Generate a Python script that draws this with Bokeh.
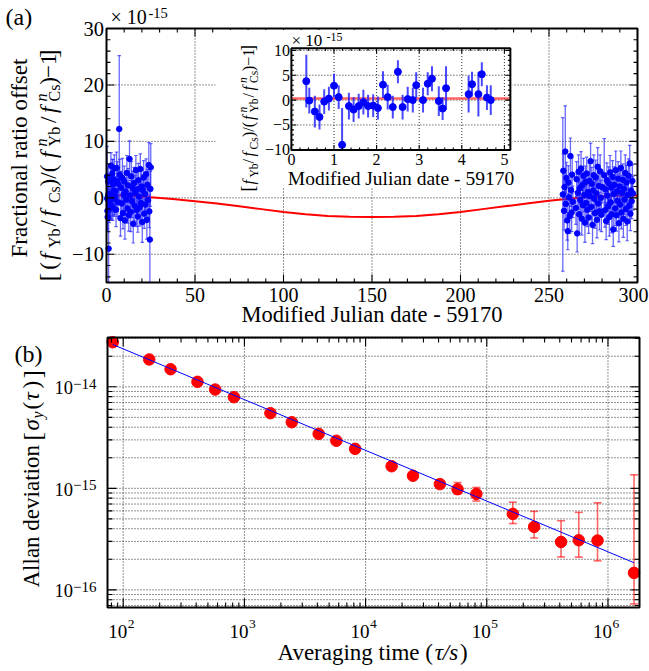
import math
from bokeh.plotting import figure
from bokeh.models import Range1d, Label, LogScale
from bokeh.embed import file_html
from bokeh.resources import INLINE
from bokeh.core.properties import value

FONT = "Liberation Serif"

# ---------------- data: panel (a) ----------------
# first five days (also shown in the inset)
inset_day = [0.35, 0.42, 0.55, 0.66, 0.77, 0.88, 1.00, 1.11, 1.19, 1.35,
             1.46, 1.58, 1.69, 1.80, 1.92, 2.03, 2.15, 2.26, 2.38, 2.50,
             2.61, 2.73, 2.85, 2.93, 3.09, 3.20, 3.30, 3.46, 3.55, 3.63,
             4.16, 4.24, 4.39, 4.47, 4.59, 4.68]
inset_offset = [3.8, -0.1, -2.3, -3.4, -0.3, 0.3, 2.9, 0.6, -9.0, -1.2,
                -1.9, -1.2, -0.4, -1.2, -1.1, -1.6, 3.1, 0.6, -1.4, 5.7,
                -1.4, 0.2, 0.0, 3.0, 0.0, 3.3, 4.3, -0.2, -1.7, 2.4,
                1.2, 3.2, 1.2, 5.2, 0.5, 0.0]
inset_err = [5.3, 2.6, 3.2, 2.5, 2.5, 2.4, 2.4, 2.4, 7.4, 2.7,
             2.5, 2.5, 2.5, 2.3, 2.3, 2.3, 2.7, 2.5, 2.3, 2.3,
             2.5, 2.5, 2.5, 2.6, 2.5, 2.3, 2.5, 3.0, 2.3, 4.4,
             3.7, 2.5, 4.5, 2.4, 2.5, 3.0]
inset_fit_day = [0.0, 5.14]
inset_fit_offset = [0.3, 0.3]

# days 5 - 25
early_day = [5.0, 5.4, 5.7, 6.1, 6.4, 6.8, 7.2, 7.5, 7.9, 8.2,
             8.6, 9.0, 9.3, 9.7, 10.0, 10.4, 10.8, 11.1, 11.5, 11.9,
             12.2, 12.6, 13.0, 13.3, 13.7, 14.0, 14.4, 14.8, 15.1, 15.5,
             15.9, 16.2, 16.6, 17.0, 17.3, 17.7, 18.0, 18.4, 18.8, 19.1,
             19.5, 19.9, 20.2, 20.6, 21.0, 21.3, 21.7, 22.0, 22.4, 22.8,
             23.1, 23.5, 23.9, 24.2, 24.5, 24.8, 25.0]
early_offset = [1.2, -2.1, 5.3, 3.0, -0.8, 2.4, 12.2, 4.1, -3.6, 1.8,
                -1.0, 3.5, -2.7, 0.6, 2.9, -4.0, 1.1, -0.3, 4.4, -1.9,
                2.2, -3.1, 6.9, 0.4, -2.5, 3.8, -0.6, 1.7, -4.6, 2.6,
                -1.4, 0.9, 4.9, -2.2, 1.5, -3.3, 3.1, 0.2, -1.7, 5.1,
                -0.9, 2.0, -4.3, 1.3, 3.6, -2.8, 0.7, -1.2, 4.2, -3.9,
                2.3, -0.4, 5.8, -2.4, -7.4, 1.6, 5.4]
early_err = [2.6, 3.0, 2.8, 3.4, 2.5, 3.1, 13.0, 2.7, 3.2, 2.9,
             2.6, 3.5, 2.8, 3.0, 2.7, 3.3, 2.5, 2.9, 3.1, 2.6,
             3.0, 2.8, 3.2, 2.7, 3.5, 2.6, 2.9, 3.0, 3.4, 2.8,
             2.7, 3.1, 2.6, 2.9, 3.2, 2.8, 3.0, 2.5, 3.3, 2.7,
             2.9, 3.1, 3.6, 2.8, 3.0, 2.6, 2.9, 3.2, 2.7, 3.4,
             2.8, 3.0, 4.0, 2.9, 9.0, 3.1, 4.2]

# days 258 - 298
late_day = [257.8, 258.1, 258.5, 258.8, 259.2, 259.5, 259.9, 260.3, 260.6, 261.0,
            261.3, 261.7, 262.1, 262.4, 262.8, 263.1, 263.5,
            265.2, 265.6, 265.9, 266.3, 266.7, 267.0, 267.4, 267.7, 268.1, 268.5,
            268.8, 269.2, 269.5, 269.9, 270.3, 270.6, 271.0, 271.3, 271.7, 272.1,
            272.4, 272.8, 273.1, 273.5, 273.9, 274.2, 274.6, 274.9, 275.3, 275.7,
            276.0, 276.4, 276.7, 277.1, 277.5, 277.8, 278.2, 278.5, 278.9, 279.3,
            279.6, 280.0,
            281.2, 281.6, 281.9, 282.3, 282.7, 283.0, 283.4, 283.7, 284.1, 284.5,
            284.8, 285.2, 285.5, 285.9, 286.3, 286.6, 287.0, 287.3, 287.7, 288.1,
            288.4, 288.8, 289.1, 289.5, 289.9, 290.2, 290.6, 290.9, 291.3, 291.7,
            292.0, 292.4, 292.7, 293.1, 293.5, 293.8, 294.2, 294.5, 294.9, 295.3,
            295.6, 296.0, 296.3, 296.7, 297.1, 297.4]
late_offset = [0.6, 4.8, -2.3, 1.9, 8.2, -1.1, 3.5, -4.0, -5.9, 2.7,
               0.1, -3.2, 7.4, 1.4, -2.6, 4.1, -0.7,
               -1.8, 3.3, -6.3, 0.9, 4.6, -2.9, 1.7, -0.4, 5.2, -3.7,
               2.2, -1.3, 3.9, 0.5, -4.4, 2.8, -0.9, 4.3, -2.1, 1.0,
               -3.5, 3.0, 0.3, 6.5, -1.6, 2.5, -4.8, 1.3, 4.0, -0.2,
               -2.7, 3.6, 0.8, -3.9, 5.5, -1.0, 2.1, -2.4, 4.7, 0.0,
               -3.0, 1.9,
               4.0, -2.2, 1.5, -4.1, 3.1, 0.4, -1.5, 2.6, -3.4, 4.5,
               -0.8, 1.8, -2.9, 3.7, -5.6, 0.7, 2.3, -1.9, 4.9, -3.1,
               1.1, -0.5, 3.4, -4.5, 2.0, -1.2, 5.3, -2.6, 0.9, 3.2,
               -3.7, 1.6, -0.3, 4.4, -2.0, 2.7, -4.2, 0.5, 3.9, -1.4,
               6.1, -2.8, 1.3, -0.6, 3.0, 0.8]
late_err = [13.6, 3.0, 3.4, 2.9, 8.1, 3.2, 2.8, 3.5, 3.3, 3.0,
            2.7, 3.1, 3.2, 2.9, 3.4, 3.0, 2.8,
            2.9, 3.1, 3.3, 2.7, 3.0, 3.4, 2.8, 3.2, 3.0, 2.9,
            3.3, 2.7, 3.1, 3.0, 3.5, 2.8, 3.2, 2.9, 3.0, 3.4,
            2.8, 3.1, 2.7, 3.2, 3.0, 2.9, 3.3, 2.8, 3.6, 3.0,
            2.7, 3.1, 2.9, 3.2, 3.4, 2.8, 3.0, 3.3, 2.9, 3.1,
            3.0, 2.8,
            6.5, 3.0, 2.8, 3.3, 3.1, 2.7, 3.2, 2.9, 3.4, 3.0,
            2.8, 3.1, 3.3, 2.9, 3.0, 2.7, 3.2, 3.0, 3.4, 2.8,
            3.1, 2.9, 3.0, 3.3, 2.7, 3.2, 3.0, 2.9, 3.1, 2.8,
            3.3, 3.0, 2.7, 3.2, 2.9, 3.1, 3.4, 2.8, 3.0, 2.9,
            3.2, 3.0, 2.8, 3.1, 2.9, 3.0]

# fitted slow variation (red curve)
curve_day = [0, 12.5, 25, 37.5, 50, 62.5, 75, 87.5, 100, 112.5, 125, 137.5, 150,
             162.5, 175, 187.5, 200, 212.5, 225, 237.5, 250, 262.5, 275, 287.5, 300]
curve_offset = [0.5, 0.35, 0.1, -0.2, -0.6, -1.0, -1.5, -2.0, -2.5, -2.9, -3.2, -3.35, -3.4,
                -3.35, -3.2, -2.9, -2.5, -2.0, -1.5, -1.0, -0.5, -0.1, 0.2, 0.35, 0.4]

a_xticks = [0, 50, 100, 150, 200, 250, 300]
a_yticks = [-10, 0, 10, 20, 30]
a_ytick_labels = ["−10", "0", "10", "20", "30"]
inset_xticks = [0, 1, 2, 3, 4, 5]
inset_yticks = [-10, -5, 0, 5, 10]
inset_ytick_labels = ["−10", "−5", "0", "5", "10"]

# ---------------- data: panel (b) ----------------
tau = [82, 164, 246, 410, 574, 820, 1640, 2460, 4100, 5740, 8200,
       16400, 24600, 41000, 57400, 82000, 164000, 246000, 410000, 574000, 820000, 1640000]
adev = [2.75e-14, 1.86e-14, 1.49e-14, 1.12e-14, 9.4e-15, 7.9e-15, 5.5e-15, 4.48e-15, 3.44e-15, 2.94e-15, 2.45e-15,
        1.65e-15, 1.33e-15, 1.10e-15, 9.8e-16, 8.8e-16, 5.6e-16, 4.17e-16, 2.96e-16, 3.08e-16, 3.06e-16, 1.47e-16]
adev_hi = [2.8e-14, 1.89e-14, 1.52e-14, 1.15e-14, 9.7e-15, 8.15e-15, 5.7e-15, 4.65e-15, 3.58e-15, 3.07e-15, 2.57e-15,
           1.74e-15, 1.41e-15, 1.17e-15, 1.14e-15, 1.02e-15, 7.3e-16, 5.93e-16, 4.8e-16, 5.8e-16, 7.2e-16, 1.36e-15]
adev_lo = [2.7e-14, 1.83e-14, 1.46e-14, 1.09e-14, 9.1e-15, 7.65e-15, 5.3e-15, 4.3e-15, 3.3e-15, 2.81e-15, 2.33e-15,
           1.56e-15, 1.25e-15, 1.03e-15, 8.8e-16, 7.5e-16, 4.5e-16, 3.24e-16, 2.11e-16, 2.1e-16, 1.93e-16, 7.26e-17]
fit_tau = [82, 1640000]
fit_adev = [2.61e-14, 1.85e-16]

b_xticks = [1e2, 1e3, 1e4, 1e5, 1e6]
b_xtick_exp = ["2", "3", "4", "5", "6"]
b_yticks = [1e-16, 1e-15, 1e-14]
b_ytick_exp = ["−16", "−15", "−14"]

# ---------------- canvas: one figure, frame = whole canvas ----------------
W, H = 649, 671
p = figure(width=W, height=H, x_range=Range1d(0, W), y_range=Range1d(0, H),
           x_axis_location=None, y_axis_location=None, toolbar_location=None,
           output_backend="svg")
p.min_border_left = p.min_border_right = p.min_border_top = p.min_border_bottom = 0
p.outline_line_color = None
p.background_fill_color = "white"
p.border_fill_color = "white"
p.grid.visible = False

BL = 0.3   # em shift that puts an "alphabetic" anchor on the glyph baseline


def PY(py):  # page pixel row -> default y range value
    return H - py


# panel (a) frame in page pixels and its data ranges
F1L, F1R, F1T, F1B = 106, 637, 28, 282
AX0, AX1, AY0, AY1 = 0, 300, -15, 30
A_XS = (F1R - F1L) / (AX1 - AX0)
A_YS = (F1B - F1T) / (AY1 - AY0)
def a_x(px): return AX0 + (px - F1L) / A_XS
def a_y(py): return AY0 + (F1B - py) / A_YS

# inset frame
IPX0, I_XS = 290.9, 42.6
IPY0, I_YS = 99.6, 4.97
IX0, IX1, IY0, IY1 = 0.0, 5.14, -10.05, 10.45
def i_x(px): return (px - IPX0) / I_XS
def i_y(py): return (IPY0 - py) / I_YS

# panel (b) frame
F2L, F2R, F2T, F2B = 107, 639, 337, 607
LX0, LX1 = math.log10(74.2), math.log10(1.82e6)
LY0, LY1 = math.log10(6.7e-17), math.log10(3.06e-14)
B_XD = (F2R - F2L) / (LX1 - LX0)   # px per decade
B_YD = (F2B - F2T) / (LY1 - LY0)
def b_x(px): return 10 ** (LX0 + (px - F2L) / B_XD)
def b_y(py): return 10 ** (LY0 + (F2B - py) / B_YD)

p.extra_x_ranges = {"ax": Range1d(a_x(0), a_x(W)), "ix": Range1d(i_x(0), i_x(W)),
                    "bx": Range1d(b_x(0), b_x(W))}
p.extra_y_ranges = {"ay": Range1d(a_y(H), a_y(0)), "iy": Range1d(i_y(H), i_y(0)),
                    "by": Range1d(b_y(H), b_y(0))}
p.extra_x_scales = {"bx": LogScale()}
p.extra_y_scales = {"by": LogScale()}
A = dict(x_range_name="ax", y_range_name="ay")
I = dict(x_range_name="ix", y_range_name="iy")
B = dict(x_range_name="bx", y_range_name="by")

GRID = dict(line_color="black", line_alpha=0.85, line_dash="1 2", line_width=1)
TICK = dict(line_color="black", line_width=1.1)

# ---------------- text helpers ----------------
W_R = {' ': .25, '(': .333, ')': .333, '[': .333, ']': .333, '/': .278, '−': .564, '-': .333,
       '×': .564, 'A': .722, 'C': .667, 'F': .556, 'J': .389, 'M': .889, 'Y': .722,
       'a': .444, 'b': .5, 'c': .444, 'd': .5, 'e': .444, 'f': .333, 'g': .5, 'i': .278,
       'l': .278, 'm': .778, 'n': .5, 'o': .5, 'r': .333, 's': .389, 't': .278, 'u': .5,
       'v': .5, 'y': .5, 'τ': .44, 'σ': .55}
W_I = {'f': .278, 'n': .5, 'y': .444, 's': .389, 'τ': .44, 'σ': .55, '/': .278}


def tw(t, size, italic=False):
    tbl = W_I if italic else W_R
    return size * sum(tbl.get(c, W_R.get(c, 0.5)) for c in t)


def lab(px, py, t, size, italic=False, angle=0.0, align="left", baseline="alphabetic"):
    if baseline == "alphabetic":
        if angle == 0.0:
            py -= BL * size
        else:
            px -= BL * size
    p.add_layout(Label(x=px, y=PY(py), text=t, angle=angle, text_font=FONT,
                       text_font_size=f"{size}px",
                       text_font_style="italic" if italic else "normal",
                       text_align=align, text_baseline=baseline, text_color="black"))


def vpieces(pieces, base_x, start_y):
    y = start_y
    for group in pieces:
        adv = 0
        for (t, size, italic, shift, a) in group:
            lab(base_x + shift, y, t, size, italic, angle=math.pi / 2)
            adv = max(adv, a if a is not None else tw(t, size, italic))
        y -= adv


def hpieces(pieces, start_x, base_y):
    x = start_x
    for (t, size, italic, shift, a) in pieces:
        lab(x, base_y + shift, t, size, italic)
        x += a if a is not None else tw(t, size, italic)


def texts(xs, ys, ts, size, align, baseline, rng, x_off=0):
    p.text(x=xs, y=ys, text=ts, x_offset=x_off, text_font=value(FONT), text_font_size=f"{size}px",
           text_align=align, text_baseline=baseline, text_color="black", **rng)


def lin_ticks(rng, x0, x1, y0, y1, xs, ys, xmaj, xmin, ymaj, ymin, lmaj, lmin):
    for ticks, L in ((xmaj, lmaj), (xmin, lmin)):
        n = len(ticks)
        p.segment(ticks, [y0] * n, ticks, [y0 + L / ys] * n, **TICK, **rng)
        p.segment(ticks, [y1] * n, ticks, [y1 - L / ys] * n, **TICK, **rng)
    for ticks, L in ((ymaj, lmaj), (ymin, lmin)):
        n = len(ticks)
        p.segment([x0] * n, ticks, [x0 + L / xs] * n, ticks, **TICK, **rng)
        p.segment([x1] * n, ticks, [x1 - L / xs] * n, ticks, **TICK, **rng)


# ================= panel (a) =================
ga_x = a_xticks[1:-1]
ga_y = a_yticks[:-1]
p.segment(ga_x, [AY0] * len(ga_x), ga_x, [AY1] * len(ga_x), **GRID, **A)
p.segment([AX0] * len(ga_y), ga_y, [AX1] * len(ga_y), ga_y, **GRID, **A)

main_day = inset_day + early_day + late_day
main_off = inset_offset + early_offset + late_offset
main_err = inset_err + early_err + late_err
a_lo = [max(v - e, AY0) for v, e in zip(main_off, main_err)]
a_hi = [min(v + e, AY1) for v, e in zip(main_off, main_err)]
cap_lo = [(d, v - e) for d, v, e in zip(main_day, main_off, main_err) if v - e > AY0]
cap_hi = [(d, v + e) for d, v, e in zip(main_day, main_off, main_err) if v + e < AY1]

p.line(curve_day, curve_offset, line_color="#ff0000", line_width=2, **A)
EB = "#2a2aff"
p.segment(main_day, a_lo, main_day, a_hi, line_color=EB, line_alpha=0.7, line_width=1.3, **A)
p.scatter([c[0] for c in cap_lo], [c[1] for c in cap_lo], marker="dash", size=3.5,
          line_color=EB, line_alpha=0.7, line_width=1.2, **A)
p.scatter([c[0] for c in cap_hi], [c[1] for c in cap_hi], marker="dash", size=3.5,
          line_color=EB, line_alpha=0.7, line_width=1.2, **A)
p.scatter(main_day, main_off, size=5.5, fill_color="#0000ff", line_color="#0000ff", **A)

a_xminor = [v for v in range(10, 300, 10) if v % 50 != 0]
a_yminor = [v for v in range(-14, 30, 2) if v % 10 != 0]
lin_ticks(A, AX0, AX1, AY0, AY1, A_XS, A_YS, a_xticks, a_xminor, a_yticks, a_yminor, 8, 4)
p.quad(left=AX0, right=AX1, bottom=AY0, top=AY1, fill_color=None, line_color="black", line_width=2, **A)
texts(a_xticks[:-1], [a_y(300.5 - BL * 20)] * (len(a_xticks) - 1), [str(v) for v in a_xticks[:-1]],
      20, "center", "alphabetic", A)
texts(a_xticks[-1:], [a_y(300.5 - BL * 20)], [str(a_xticks[-1])], 20, "center", "alphabetic", A, x_off=-4)
texts([a_x(103.5)] * len(a_yticks), a_yticks, a_ytick_labels, 20.5, "right", "middle", A)

# ----- inset -----
p.quad(left=i_x(215), right=i_x(512), bottom=i_y(187), top=i_y(29.5),
       fill_color="white", line_color=None, **I)
gi_x = inset_xticks[1:]
gi_y = inset_yticks[1:]
p.segment(gi_x, [IY0] * len(gi_x), gi_x, [IY1] * len(gi_x), **GRID, **I)
p.segment([IX0] * len(gi_y), gi_y, [IX1] * len(gi_y), gi_y, **GRID, **I)
p.line(inset_fit_day, inset_fit_offset, line_color="#ff3030", line_alpha=0.75, line_width=2.5, **I)
i_lo = [max(v - e, IY0) for v, e in zip(inset_offset, inset_err)]
i_hi = [min(v + e, IY1) for v, e in zip(inset_offset, inset_err)]
p.segment(inset_day, i_lo, inset_day, i_hi, line_color="#1a1aff", line_alpha=0.8, line_width=2, **I)
p.scatter(inset_day, inset_offset, size=7, fill_color="#0000ff", line_color="#0000ff", **I)
i_xminor = [v / 5 for v in range(1, 26) if v % 5 != 0]
i_yminor = [v for v in range(-9, 11) if v % 5 != 0]
lin_ticks(I, IX0, IX1, IY0, IY1, I_XS, I_YS, inset_xticks, i_xminor, inset_yticks, i_yminor, 5, 2.5)
p.quad(left=IX0, right=IX1, bottom=IY0, top=IY1, fill_color=None, line_color="black", line_width=2, **I)
texts(inset_xticks, [i_y(163.5 - BL * 16)] * len(inset_xticks), [str(v) for v in inset_xticks],
      16, "center", "alphabetic", I)
texts([i_x(289.5)] * len(inset_yticks), inset_yticks, inset_ytick_labels, 16, "right", "middle", I)
hpieces([("× 10", 17, False, 0, 35), ("-15", 12, False, -5, None)], 291, 45.5)
lab(400.5, 183.5, "Modified Julian date - 59170", 19.5, align="center")
isub, isup = 4, -7
inset_lab = [
    [("[", 18, False, 0, 7)], [("f", 16, True, 0, 7)], [("Yb", 11.5, False, isub, 14)],
    [("/", 16, False, 0, 7)], [("f", 16, True, 0, 7)], [("Cs", 11.5, False, isub, 12.5)],
    [(")/(", 16, False, 0, 17)], [("f", 16, True, 0, 7.5)],
    [("n", 11.5, True, isup, None), ("Yb", 11.5, False, isub, 15)],
    [("/", 16, False, 0, 7)], [("f", 16, True, 0, 7.5)],
    [("n", 11.5, True, isup, None), ("Cs", 11.5, False, isub, 12)],
    [(")−1", 16, False, 0, 20)], [("]", 18, False, 0, 6)],
]
vpieces(inset_lab, 253, 191)

# ----- panel (a) texts -----
lab(5, 3, "(a)", 24, baseline="top")
hpieces([("× 10", 20, False, 0, 38), ("-15", 14.5, False, -6, None)], 110, 22.5)
lab(371.5, 320.5, "Modified Julian date - 59170", 22.5, align="center")
lab(26, 157.5, "Fractional ratio offset", 23, angle=math.pi / 2, align="center")
S, SB, SP = 16, 4, -9
main_lab = [
    [("[", 26, False, 1, 11.7)], [("(", 23, False, 0, 10)], [("f", 23, True, 0, 11.7)],
    [("Yb", S, False, SB, 21.7)], [("/", 23, False, 0, 10)], [("f", 23, True, 0, 13.3)],
    [("Cs", S, False, SB, 16.7)], [(")/(", 23, False, 0, 28.3)], [("f", 23, True, 0, 11.7)],
    [("n", S, True, SP, None), ("Yb", S, False, SB, 23.3)], [("/", 23, False, 0, 10)],
    [("f", 23, True, 0, 11.7)], [("n", S, True, SP, None), ("Cs", S, False, SB, 16.7)],
    [(")", 23, False, 0, 6.7)], [("−1", 23, False, 0, 20)], [("]", 26, False, 1, 8)],
]
vpieces(main_lab, 55, 281)

# ================= panel (b) =================
bx0, bx1, by0, by1 = 10 ** LX0, 10 ** LX1, 10 ** LY0, 10 ** LY1
b_xminor = [k * 10 ** e for e in range(1, 7) for k in range(2, 10) if bx0 < k * 10 ** e < bx1]
b_yminor = [k * 10.0 ** e for e in range(-17, -13) for k in range(2, 10) if by0 < k * 10.0 ** e < by1]
b_ygrid = b_yticks + b_yminor
p.segment(b_xticks, [by0] * len(b_xticks), b_xticks, [by1] * len(b_xticks), **GRID, **B)
p.segment([bx0] * len(b_ygrid), b_ygrid, [bx1] * len(b_ygrid), b_ygrid, **GRID, **B)

p.segment(tau, adev_lo, tau, adev_hi, line_color="#ff0000", line_alpha=0.6, line_width=1.6, **B)
p.scatter(tau, adev_hi, marker="dash", size=8, line_color="#ff0000", line_alpha=0.6, line_width=1.6, **B)
p.scatter(tau, adev_lo, marker="dash", size=8, line_color="#ff0000", line_alpha=0.6, line_width=1.6, **B)
p.scatter(tau, adev, size=11.5, fill_color="#ff0000", line_color="#ff0000", **B)
p.line(fit_tau, fit_adev, line_color="#0000ff", line_width=1, **B)

for ticks, L in ((b_xticks, 9), (b_xminor, 5)):
    n = len(ticks)
    f = 10 ** (L / B_YD)
    p.segment(ticks, [by0] * n, ticks, [by0 * f] * n, **TICK, **B)
    p.segment(ticks, [by1] * n, ticks, [by1 / f] * n, **TICK, **B)
for ticks, L in ((b_yticks, 9), (b_yminor, 5)):
    n = len(ticks)
    f = 10 ** (L / B_XD)
    p.segment([bx0] * n, ticks, [bx0 * f] * n, ticks, **TICK, **B)
    p.segment([bx1] * n, ticks, [bx1 / f] * n, ticks, **TICK, **B)
p.quad(left=bx0, right=bx1, bottom=by0, top=by1, fill_color=None, line_color="black", line_width=2, **B)

nx = len(b_xticks)
texts(b_xticks, [b_y(637 - BL * 19)] * nx, ["10"] * nx, 19, "right", "alphabetic", B, x_off=4)
texts(b_xticks, [b_y(627.5 - BL * 13.5)] * nx, b_xtick_exp, 13.5, "left", "alphabetic", B, x_off=4.5)
ny = len(b_yticks)
down_base = 10 ** (-(6.5 - BL * 18.5) / B_YD)
down_exp = 10 ** (-(1.2 - BL * 15) / B_YD)
texts([b_x(72.5)] * ny, [t * down_base for t in b_yticks], ["10"] * ny, 18.5, "right", "alphabetic", B)
texts([b_x(72.5)] * ny, [t * down_exp for t in b_yticks], b_ytick_exp, 15, "left", "alphabetic", B)

lab(14, 340, "(b)", 24, baseline="top")
hpieces([("Averaging time (", 23, False, 0, None), ("τ/s", 23, True, 0, None), (")", 23, False, 0, None)],
        277, 659)
bl = [
    [("Allan deviation", 23, False, 0, 147)], [("[", 25, False, 1, 10)], [("σ", 23, True, 0, 12)],
    [("y", 16, True, 4, 9)], [("(", 23, False, 0, 9)], [("τ", 23, True, 0, 12)],
    [(")", 23, False, 0, 10)], [("]", 25, False, 1, 8)],
]
vpieces(bl, 38, 587)

open("out.html", "w").write(file_html(p, INLINE))
